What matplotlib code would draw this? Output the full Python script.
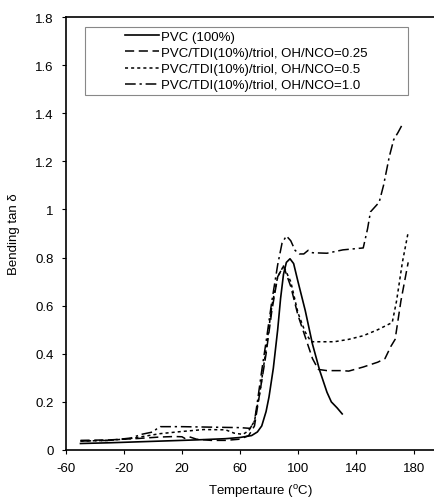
import matplotlib
matplotlib.use("Agg")
import matplotlib.pyplot as plt
from matplotlib.patches import Rectangle
from matplotlib.ticker import FuncFormatter

plt.rcParams['font.family'] = ['Liberation Sans', 'DejaVu Sans']
plt.rcParams['mathtext.fontset'] = 'custom'
plt.rcParams['mathtext.rm'] = 'Liberation Sans'
plt.rcParams['axes.unicode_minus'] = False
plt.rcParams['font.size'] = 9.5

# data: temperature (C) and bending tan delta
pvc_t = [-50, -30, -10, 10, 30, 50, 60, 68, 72, 75, 78, 80, 83, 86, 88, 90, 92, 94.5,
         97, 100, 105, 110, 115, 120, 123, 127, 130.5]
pvc_v = [0.027, 0.03, 0.034, 0.038, 0.042, 0.047, 0.052, 0.06, 0.075, 0.1, 0.16, 0.22,
         0.34, 0.5, 0.63, 0.73, 0.78, 0.795, 0.775, 0.7, 0.58, 0.44, 0.33, 0.24, 0.2,
         0.175, 0.15]

r025_t = [-50, -30, -10, 5, 15, 20, 22, 25, 30, 40, 50, 60, 66, 70, 74, 78, 82, 86, 90,
          95, 100, 105, 110, 114, 120, 130, 135, 145, 155, 160, 164, 167, 171, 176]
r025_v = [0.04, 0.042, 0.048, 0.054, 0.056, 0.055, 0.048, 0.055, 0.045, 0.04, 0.04,
          0.045, 0.06, 0.1, 0.25, 0.4, 0.58, 0.72, 0.765, 0.68, 0.56, 0.47, 0.38, 0.335,
          0.33, 0.33, 0.328, 0.345, 0.365, 0.38, 0.43, 0.46, 0.62, 0.78]

r05_t = [-50, -30, -15, -5, 5, 20, 35, 50, 56, 62, 66, 70, 74, 78, 82, 86, 90, 95, 100,
         105, 109, 115, 125, 135, 145, 155, 165, 168, 172, 176]
r05_v = [0.037, 0.04, 0.048, 0.058, 0.068, 0.077, 0.085, 0.084, 0.07, 0.065, 0.08, 0.12,
         0.25, 0.42, 0.6, 0.72, 0.765, 0.7, 0.57, 0.49, 0.45, 0.45, 0.45, 0.46, 0.475,
         0.5, 0.53, 0.62, 0.78, 0.905]

r10_t = [-50, -30, -15, -8, 0, 3, 5, 20, 40, 60, 67, 70, 72, 75, 78, 82, 86, 89, 92, 95,
         98, 101, 104, 107, 110, 120, 131, 145, 148, 150, 153, 156, 159, 163, 166, 169,
         171.5]
r10_v = [0.037, 0.04, 0.05, 0.065, 0.075, 0.09, 0.097, 0.097, 0.095, 0.093, 0.09, 0.12,
         0.2, 0.33, 0.45, 0.62, 0.77, 0.86, 0.89, 0.87, 0.83, 0.815, 0.815, 0.83, 0.82,
         0.818, 0.832, 0.84, 0.92, 0.99, 1.01, 1.03, 1.1, 1.22, 1.29, 1.32, 1.348]

labels = ['PVC (100%)', 'PVC/TDI(10%)/triol, OH/NCO=0.25',
          'PVC/TDI(10%)/triol, OH/NCO=0.5', 'PVC/TDI(10%)/triol, OH/NCO=1.0']

fig = plt.figure(figsize=(4.35, 5.02), dpi=100)
ax = fig.add_axes([0.1517, 0.1016, 0.8483, 0.8625])

ax.plot(pvc_t, pvc_v, color='black', lw=1.2, label=labels[0])
ax.plot(r025_t, r025_v, color='black', lw=1.1, dashes=(6, 3), label=labels[1])
ax.plot(r05_t, r05_v, color='black', lw=1.1, dashes=(2, 2), label=labels[2])
ax.plot(r10_t, r10_v, color='black', lw=1.1, dashes=(7, 2.5, 1.5, 2.5), label=labels[3])

ax.set_xlim(-60, 194.5)
ax.set_ylim(0, 1.8)
ax.set_xticks(range(-60, 181, 40))
ax.set_yticks([i * 0.2 for i in range(10)])
ax.yaxis.set_major_formatter(FuncFormatter(lambda v, p: '%g' % round(v, 1)))
ax.tick_params(direction='out', length=3, width=0.8, pad=6)
ax.spines['right'].set_visible(False)
for s in ['left', 'bottom', 'top']:
    ax.spines[s].set_linewidth(1.2)

ax.set_xlabel('Tempertaure ($^{\\mathrm{o}}$C)')
ax.xaxis.set_label_coords((260 - 66) / 369, -0.075)
ax.set_ylabel('Bending tan δ')
ax.yaxis.set_label_coords(-0.125, 0.5)

# legend: frame drawn separately so the entries sit centred in the box
ax.add_patch(Rectangle((0.0515, 0.82), 0.875, 0.157, transform=ax.transAxes,
                       fill=False, edgecolor='#888888', lw=0.8))
ax.legend(loc='center', bbox_to_anchor=(0.0515 + 0.875 / 2, 0.82 + 0.157 / 2),
          frameon=False, handlelength=2.6, handletextpad=0.15, labelspacing=0.3,
          borderpad=0)

fig.savefig('out.png', dpi=100)
